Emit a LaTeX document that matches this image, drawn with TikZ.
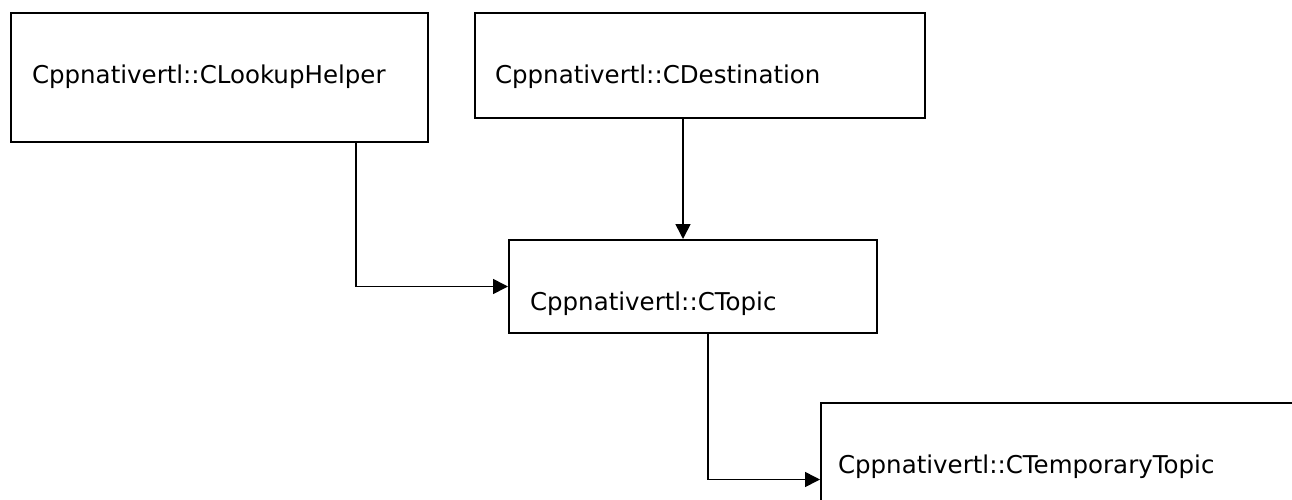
\documentclass[tikz,border=0pt]{standalone}
\usepackage{fontspec}
\setmainfont{DejaVu Sans}
\usepackage{tikz}
\usetikzlibrary{
        arrows.meta,
        positioning
    }
\tikzset{>={Triangle[length=15pt,width=15pt]}}
\tikzset{class box/.style={draw,rectangle,line width=2pt,inner ysep=0pt,align=left,
        anchor=north west,font=\fontsize{24.5}{28}\selectfont,text height=70pt}}
\tikzset{elbow/.style={to path={|- (\tikztotarget)}}}

\begin{document}
\begin{tikzpicture}
				\useasboundingbox (0,0) rectangle (1292pt,-499pt);
				\clip (0,0) rectangle (1292pt,-499pt);
				\node[class box,inner xsep=21pt,text width=375pt,text depth=59pt] (c0) at (10pt,-12pt) {Cppnativertl::CLookupHelper};
				\node[class box,inner xsep=20pt,text width=410pt,text depth=35pt] (c01) [right=45pt of c0.north east,anchor=north west] {Cppnativertl::CDestination};
				\node[class box,inner xsep=21pt,text width=326pt,text depth=23pt] (c02) [below right=120pt and 34pt of c01.south west,anchor=north west] {Cppnativertl::CTopic};
				\node[class box,inner xsep=17pt,text width=465pt,text depth=83pt] (c03) [below right=68pt and -58pt of c02.south east,anchor=north west] {Cppnativertl::CTemporaryTopic};
				\coordinate (d0) at ([xshift=-73pt]c0.south east);
				\coordinate (d01) at ([xshift=-17pt]c01.south);
				\coordinate (d02) at ([xshift=15pt]c02.south);
				\path[->,line width=1.6pt]
					(d0)  edge[elbow]  (c02)
					(d01)  edge  (d01 |- c02.north)
					(d02)  edge[elbow]  (c03);
			\end{tikzpicture}
\end{document}
